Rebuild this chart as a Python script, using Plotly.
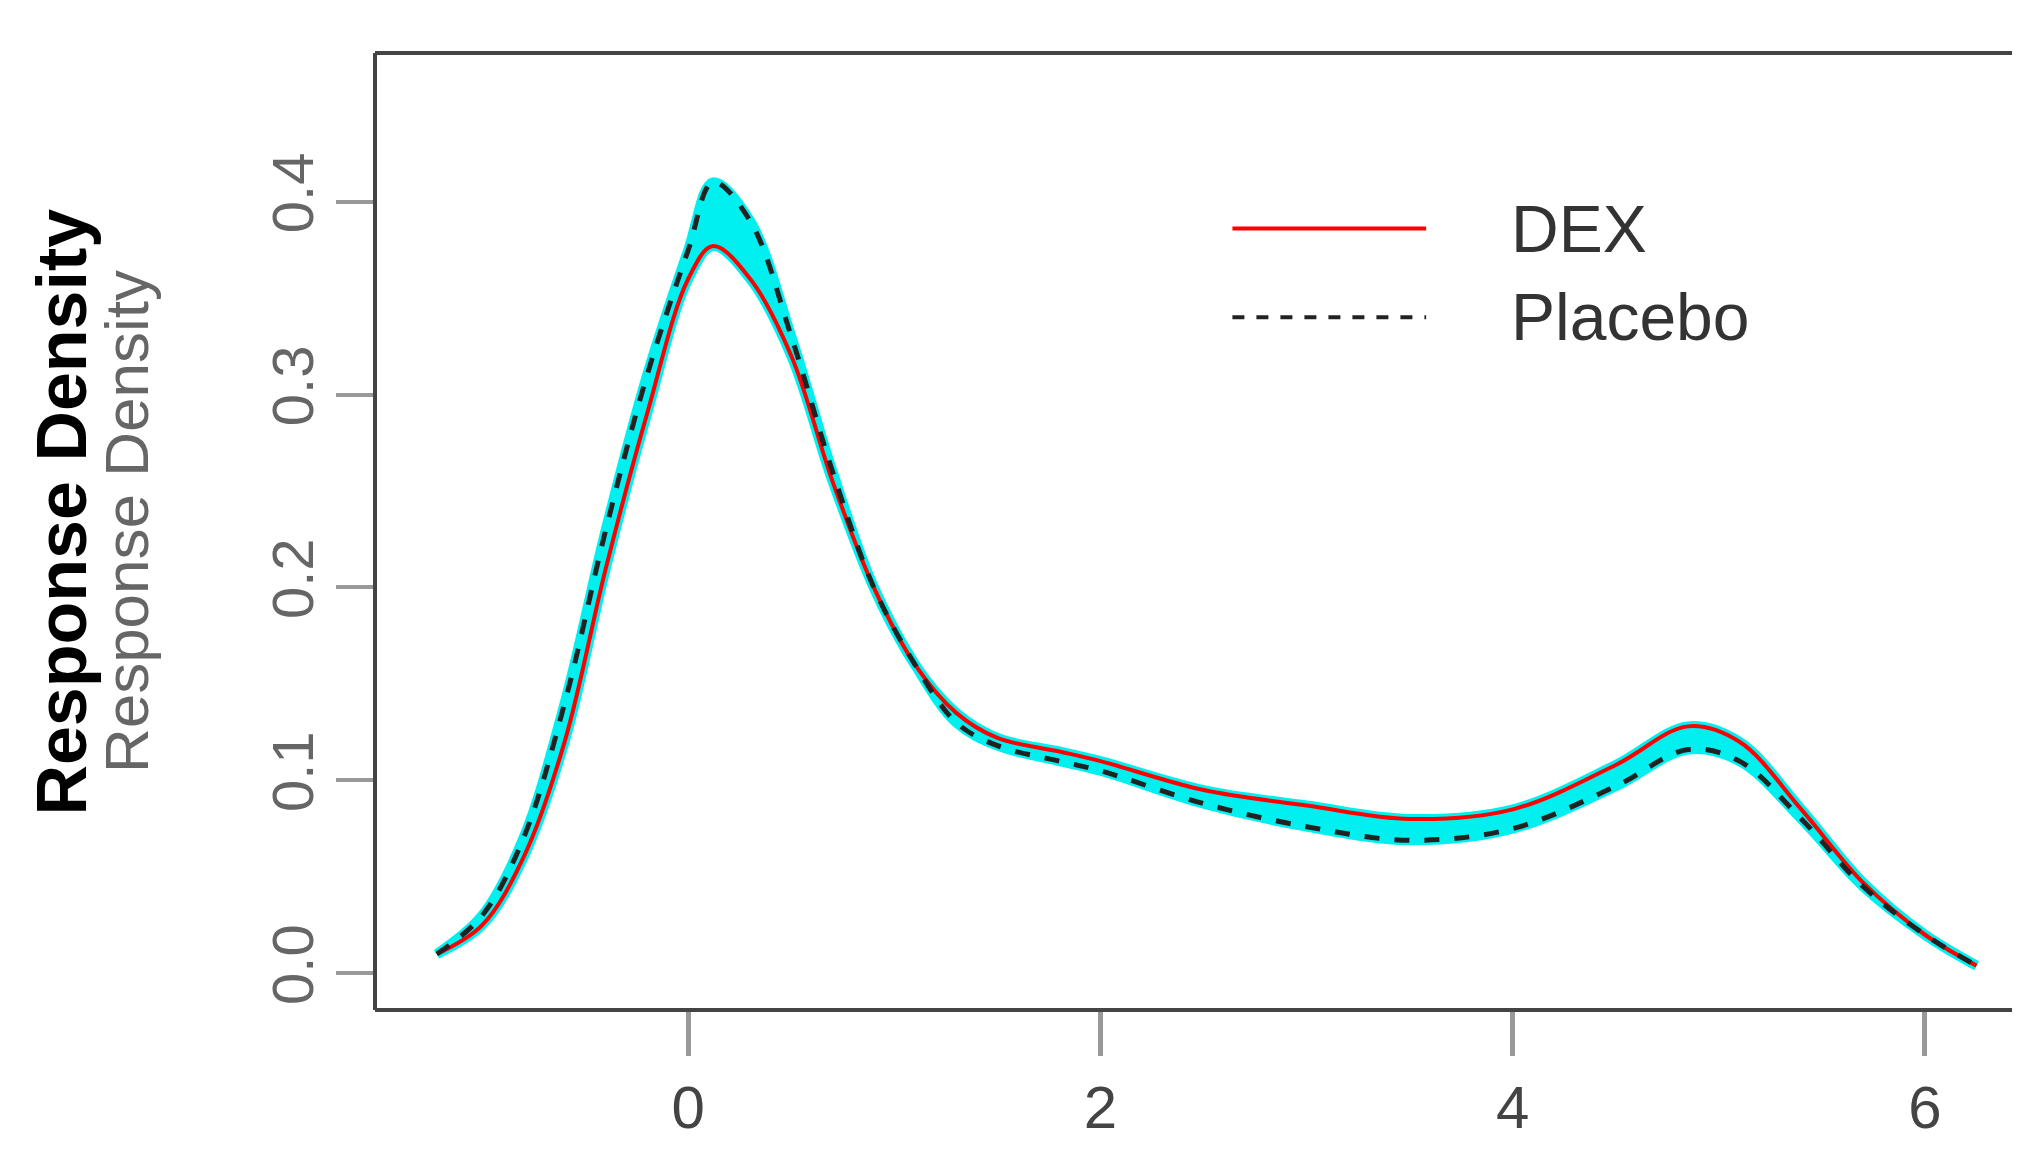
import plotly.graph_objects as go

x = [-1.22, -1.0, -0.8, -0.6, -0.4, -0.2, 0.0, 0.12, 0.3, 0.5, 0.7, 0.9, 1.1, 1.3, 1.5, 1.8,
     2.0, 2.5, 3.0, 3.5, 4.0, 4.5, 4.85, 5.1, 5.4, 5.7, 6.0, 6.25]
placebo = [0.01, 0.03, 0.07, 0.14, 0.23, 0.31, 0.375, 0.41, 0.39, 0.33, 0.26, 0.20, 0.16, 0.13,
           0.118, 0.11, 0.105, 0.088, 0.076, 0.069, 0.075, 0.097, 0.116, 0.11, 0.08, 0.045, 0.02, 0.004]
dex = [0.01, 0.025, 0.06, 0.12, 0.21, 0.29, 0.36, 0.377, 0.36, 0.32, 0.255, 0.20, 0.16, 0.135,
       0.122, 0.115, 0.11, 0.095, 0.087, 0.08, 0.085, 0.108, 0.128, 0.12, 0.085, 0.047, 0.02, 0.004]

fig = go.Figure()
fig.add_trace(go.Scatter(x=x, y=placebo, mode="lines", line=dict(color="#00f0f0", width=10, shape="spline"),
                         hoverinfo="skip"))
fig.add_trace(go.Scatter(x=x, y=dex, mode="lines", fill="tonexty", fillcolor="#00f0f0",
                         line=dict(color="#00f0f0", width=10, shape="spline"), hoverinfo="skip"))
fig.add_trace(go.Scatter(x=x, y=dex, mode="lines", name="DEX", line=dict(color="red", width=4, shape="spline")))
fig.add_trace(go.Scatter(x=x, y=placebo, mode="lines", name="Placebo",
                         line=dict(color="#222", width=5, dash="dash", shape="spline")))

gray = "#666"
fig.update_layout(
    width=2020, height=1167, showlegend=False,
    plot_bgcolor="white", paper_bgcolor="white",
    margin=dict(l=367, r=0, t=45, b=165),
    font=dict(family="Liberation Sans", color=gray),
    xaxis=dict(range=[-1.52, 6.5], tickvals=[0, 2, 4, 6], showgrid=False, zeroline=False,
               ticks="outside", ticklen=45, tickwidth=5, tickcolor="#999",
               tickfont=dict(size=60, color="#444")),
    yaxis=dict(range=[-0.019, 0.477], tickvals=[0, 0.1, 0.2, 0.3, 0.4], ticktext=["0.0", "0.1", "0.2", "0.3", "0.4"],
               showgrid=False, zeroline=False, tickangle=-90,
               ticks="outside", ticklen=38, tickwidth=4, tickcolor="#999",
               tickfont=dict(size=58, color=gray)),
    shapes=[
        dict(type="line", xref="paper", yref="paper", x0=0, x1=0, y0=0, y1=1, line=dict(color="#444", width=4)),
        dict(type="line", xref="paper", yref="paper", x0=0, x1=1, y0=1, y1=1, line=dict(color="#444", width=4)),
        dict(type="line", xref="paper", yref="paper", x0=0, x1=1, y0=0, y1=0, line=dict(color="#444", width=4)),
        dict(type="line", x0=2.64, x1=3.58, y0=0.386, y1=0.386, line=dict(color="red", width=4)),
        dict(type="line", x0=2.64, x1=3.58, y0=0.34, y1=0.34, line=dict(color="#222", width=4, dash="dash")),
    ],
    annotations=[
        dict(text="DEX", x=3.98, y=0.386, xanchor="left", showarrow=False, font=dict(size=66, color="#333")),
        dict(text="Placebo", x=3.98, y=0.34, xanchor="left", showarrow=False, font=dict(size=66, color="#333")),
        dict(text="<b>Response Density</b>", xref="paper", yref="paper", x=-0.214, y=0.52, textangle=-90,
             showarrow=False, font=dict(size=70, color="black")),
        dict(text="Response Density", xref="paper", yref="paper", x=-0.172, y=0.51, textangle=-90,
             showarrow=False, font=dict(size=62, color=gray)),
    ],
)
fig.write_html("out.html")
